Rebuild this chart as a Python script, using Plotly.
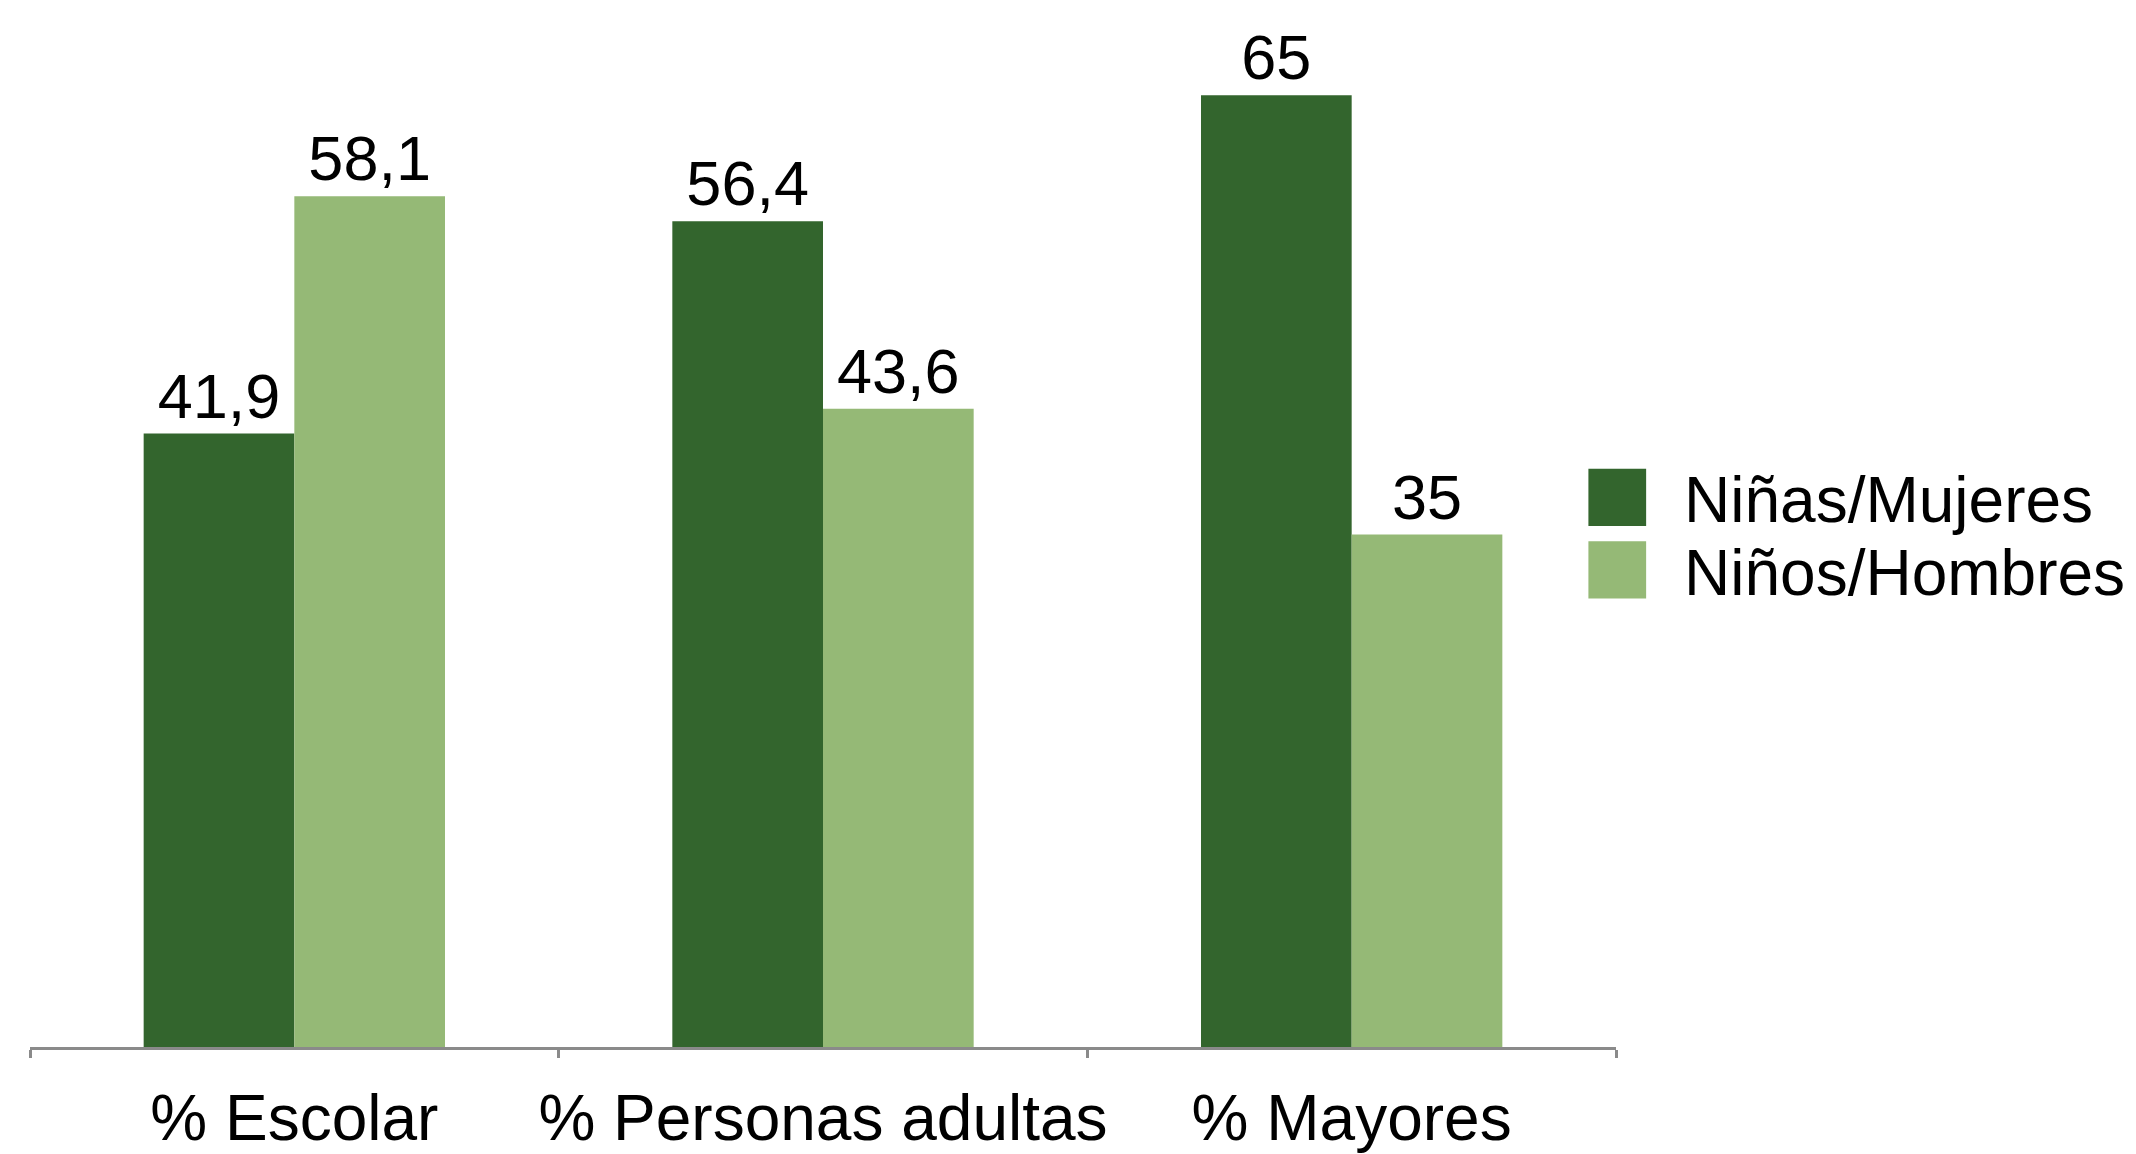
import plotly.graph_objects as go

categories = ["% Escolar", "% Personas adultas", "% Mayores"]
series_names = ["Niñas/Mujeres", "Niños/Hombres"]
mujeres = [41.9, 56.4, 65]
hombres = [58.1, 43.6, 35]
colors = ["#33652D", "#95B976"]

FONT = "Liberation Sans, Arial, sans-serif"

def fmt(v):
    return (f"{v:g}").replace(".", ",")

fig = go.Figure()
for name, vals, col in zip(series_names, [mujeres, hombres], colors):
    fig.add_trace(go.Bar(
        x=categories, y=vals, name=name, marker=dict(color=col, line=dict(width=0)),
        text=[fmt(v) for v in vals], textposition="outside", cliponaxis=False,
        textfont=dict(family=FONT, size=63, color="#000000"),
        showlegend=False,
    ))

# legend drawn in paper coordinates
leg_y = [0.5394, 0.4682]
for i, (name, col) in enumerate(zip(series_names, colors)):
    fig.add_shape(type="rect", xref="paper", yref="paper",
                  x0=0.9826, x1=1.019, y0=leg_y[i] - 0.028, y1=leg_y[i] + 0.028,
                  fillcolor=col, line=dict(width=0))
    fig.add_annotation(xref="paper", yref="paper", x=1.0418, y=leg_y[i] - 0.003,
                       xanchor="left", yanchor="middle", text=name, showarrow=False,
                       font=dict(family=FONT, size=64, color="#000000"))

fig.update_layout(
    width=2136, height=1154,
    margin=dict(l=22, r=528, t=20, b=115, autoexpand=False),
    barmode="group", bargap=0.43, bargroupgap=0,
    plot_bgcolor="white", paper_bgcolor="white",
    font=dict(family=FONT, size=62, color="#000000"),
    xaxis=dict(showline=True, linecolor="#8A8A8A", linewidth=3,
               ticks="outside", tickson="boundaries", ticklen=8, tickwidth=3,
               tickangle=0, automargin=False, ticklabelstandoff=13,
               tickcolor="#8A8A8A", tickfont=dict(family=FONT, size=64, color="#000000"),
               showgrid=False, zeroline=False),
    yaxis=dict(range=[0, 69.6], visible=False, showgrid=False, zeroline=False,
               automargin=False),
)

fig.write_html("out.html")
